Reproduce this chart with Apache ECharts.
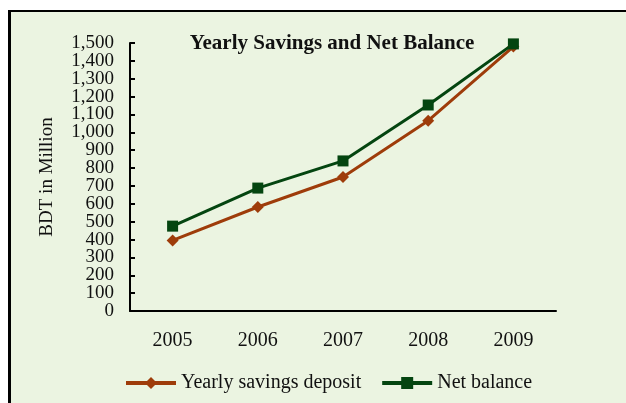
<!DOCTYPE html>
<html>
<head>
<meta charset="utf-8">
<script src="https://cdn.jsdelivr.net/npm/echarts@6/dist/echarts.min.js"></script>
<style>
html,body{margin:0;padding:0;background:#ffffff;}
#wrap{position:relative;width:626px;height:403px;overflow:hidden;background:#ffffff;}
#bg{position:absolute;left:8px;top:10px;width:640px;height:420px;background:#EBF4E1;border-top:2px solid #000;border-left:3px solid #000;box-sizing:border-box;}
#chart{position:absolute;left:0;top:0;width:626px;height:403px;}
</style>
</head>
<body>
<div id="wrap"><div id="bg"></div><div id="chart"></div></div>
<script>
const categories = ['2005', '2006', '2007', '2008', '2009'];
const savingsDeposit = [395, 582, 750, 1065, 1480];
const netBalance = [475, 688, 840, 1153, 1495];
const seriesNames = ['Yearly savings deposit', 'Net balance'];

const font = '"Liberation Serif", "Times New Roman", serif';
const brown = '#9E3C0A';
const green = '#044510';

function labelFor(parity) {
  return v => (Math.round(v / 100) % 2 === parity) ? v.toLocaleString('en-US') : '';
}
function yAxisBase(parity, main) {
  return {
    type: 'value', min: 0, max: 1500, interval: 100, position: 'left',
    name: main ? 'BDT in Million' : '', nameLocation: 'middle', nameGap: 73, nameRotate: 90,
    nameTextStyle: {fontFamily: font, fontSize: 19, color: '#111'},
    axisLine: {show: main, lineStyle: {color: '#000', width: 2}},
    axisTick: {show: main, inside: true, length: 5, lineStyle: {color: '#000', width: 2}},
    splitLine: {show: false},
    axisLabel: {
      margin: 16, fontFamily: font, fontSize: 19, color: '#111',
      showMinLabel: true, showMaxLabel: true, hideOverlap: false,
      formatter: labelFor(parity)
    }
  };
}

const chart = echarts.init(document.getElementById('chart'), null, {renderer: 'canvas'});
chart.setOption({
  backgroundColor: 'transparent',
  animation: false,
  title: {
    text: 'Yearly Savings and Net Balance',
    left: 327, top: 28, textAlign: 'center',
    textStyle: {fontFamily: font, fontSize: 21, fontWeight: 'bold', color: '#111'}
  },
  legend: {
    left: 119, top: 368,
    itemWidth: 50, itemHeight: 15, itemGap: 19,
    lineStyle: {width: 4},
    textStyle: {fontFamily: font, fontSize: 20, color: '#111'},
    data: seriesNames
  },
  grid: {left: 130, right: 70, top: 43, bottom: 92, containLabel: false},
  xAxis: {
    type: 'category', data: categories, boundaryGap: true,
    axisLine: {lineStyle: {color: '#000', width: 2}},
    axisTick: {inside: true, length: 7, lineStyle: {color: '#000', width: 2}},
    axisLabel: {margin: 20, fontFamily: font, fontSize: 20, color: '#111'}
  },
  yAxis: [yAxisBase(0, true), yAxisBase(1, false)],
  series: [
    {
      name: seriesNames[0], type: 'line', data: savingsDeposit, yAxisIndex: 0,
      symbol: 'diamond', symbolSize: 12,
      lineStyle: {color: brown, width: 3},
      itemStyle: {color: brown}
    },
    {
      name: seriesNames[1], type: 'line', data: netBalance, yAxisIndex: 0,
      symbol: 'rect', symbolSize: 11,
      lineStyle: {color: green, width: 3},
      itemStyle: {color: green}
    }
  ]
});
</script>
</body>
</html>
